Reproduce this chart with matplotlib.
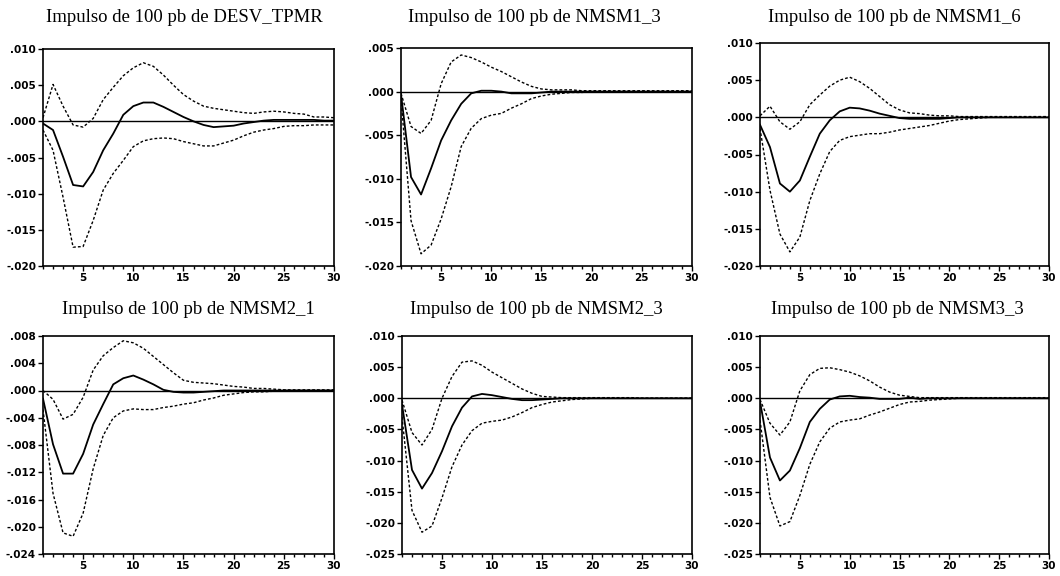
import matplotlib
matplotlib.use("Agg")
import matplotlib.pyplot as plt
import numpy as np

W, H = 1060, 576

periods = list(range(1, 31))

titles = [
    "Impulso de 100 pb de DESV_TPMR",
    "Impulso de 100 pb de NMSM1_3",
    "Impulso de 100 pb de NMSM1_6",
    "Impulso de 100 pb de NMSM2_1",
    "Impulso de 100 pb de NMSM2_3",
    "Impulso de 100 pb de NMSM3_3",
]

# panel 1: DESV_TPMR
p1_mean = [-0.0003, -0.0012, -0.0049, -0.0088, -0.0090, -0.0070, -0.0040, -0.0017, 0.0009, 0.0021,
           0.0026, 0.0026, 0.0020, 0.0013, 0.0006, 0.0000, -0.0005, -0.0008, -0.0007, -0.0006,
           -0.0003, -0.0001, 0.0001, 0.0002, 0.0002, 0.0002, 0.0002, 0.0002, 0.0001, 0.0001]
p1_up = [0.0005, 0.0051, 0.0021, -0.0005, -0.0008, 0.0004, 0.0030, 0.0047, 0.0063, 0.0074,
         0.0081, 0.0076, 0.0064, 0.0050, 0.0037, 0.0028, 0.0021, 0.0018, 0.0016, 0.0014,
         0.0012, 0.0011, 0.0013, 0.0014, 0.0013, 0.0011, 0.0010, 0.0006, 0.0006, 0.0005]
p1_lo = [-0.0012, -0.0040, -0.0105, -0.0174, -0.0173, -0.0137, -0.0095, -0.0072, -0.0054, -0.0035,
         -0.0027, -0.0024, -0.0023, -0.0024, -0.0028, -0.0031, -0.0034, -0.0034, -0.0030, -0.0026,
         -0.0020, -0.0015, -0.0012, -0.0010, -0.0007, -0.0006, -0.0006, -0.0005, -0.0005, -0.0005]

# panel 2: NMSM1_3
p2_mean = [-0.0003, -0.0098, -0.0118, -0.0088, -0.0056, -0.0033, -0.0014, -0.0002, 0.0001, 0.0001,
           0.0000, -0.0002, -0.0002, -0.0002, -0.0001, 0.0000, 0.0000, 0.0000, 0.0000, 0.0000,
           0.0000, 0.0000, 0.0000, 0.0000, 0.0000, 0.0000, 0.0000, 0.0000, 0.0000, 0.0000]
p2_up = [-0.0002, -0.0040, -0.0048, -0.0033, 0.0009, 0.0034, 0.0042, 0.0039, 0.0034, 0.0028,
         0.0023, 0.0017, 0.0011, 0.0006, 0.0003, 0.0002, 0.0002, 0.0002, 0.0001, 0.0001,
         0.0001, 0.0001, 0.0001, 0.0001, 0.0001, 0.0001, 0.0001, 0.0001, 0.0001, 0.0001]
p2_lo = [-0.0008, -0.0148, -0.0186, -0.0176, -0.0146, -0.0109, -0.0063, -0.0042, -0.0031, -0.0027,
         -0.0025, -0.0019, -0.0014, -0.0008, -0.0005, -0.0003, -0.0002, -0.0001, -0.0001, 0.0000,
         0.0000, 0.0000, 0.0000, 0.0000, 0.0000, 0.0000, 0.0000, 0.0000, 0.0000, 0.0000]

# panel 3: NMSM1_6
p3_mean = [-0.0010, -0.0040, -0.0089, -0.0100, -0.0085, -0.0053, -0.0022, -0.0004, 0.0008, 0.0013,
           0.0012, 0.0009, 0.0005, 0.0002, -0.0001, -0.0002, -0.0002, -0.0002, -0.0002, -0.0001,
           0.0000, 0.0000, 0.0000, 0.0000, 0.0000, 0.0000, 0.0000, 0.0000, 0.0000, 0.0000]
p3_up = [0.0002, 0.0015, -0.0006, -0.0016, -0.0006, 0.0017, 0.0030, 0.0042, 0.0050, 0.0054,
         0.0048, 0.0039, 0.0028, 0.0017, 0.0010, 0.0006, 0.0005, 0.0003, 0.0002, 0.0002,
         0.0001, 0.0001, 0.0001, 0.0001, 0.0001, 0.0001, 0.0001, 0.0001, 0.0001, 0.0001]
p3_lo = [-0.0015, -0.0098, -0.0157, -0.0181, -0.0161, -0.0112, -0.0076, -0.0046, -0.0031, -0.0026,
         -0.0024, -0.0022, -0.0022, -0.0020, -0.0017, -0.0015, -0.0013, -0.0011, -0.0008, -0.0005,
         -0.0003, -0.0002, -0.0001, 0.0000, 0.0000, 0.0000, 0.0000, 0.0000, 0.0000, 0.0000]

# panel 4: NMSM2_1
p4_mean = [-0.0012, -0.0079, -0.0122, -0.0122, -0.0093, -0.0050, -0.0020, 0.0009, 0.0018, 0.0022,
           0.0016, 0.0009, 0.0001, -0.0002, -0.0003, -0.0003, -0.0002, -0.0001, 0.0000, 0.0000,
           0.0000, 0.0000, 0.0000, 0.0000, 0.0000, 0.0000, 0.0000, 0.0000, 0.0000, 0.0000]
p4_up = [0.0000, -0.0013, -0.0042, -0.0035, -0.0010, 0.0030, 0.0051, 0.0063, 0.0073, 0.0070,
         0.0062, 0.0050, 0.0038, 0.0026, 0.0015, 0.0012, 0.0011, 0.0010, 0.0008, 0.0006,
         0.0005, 0.0003, 0.0003, 0.0002, 0.0001, 0.0001, 0.0001, 0.0001, 0.0001, 0.0001]
p4_lo = [-0.0028, -0.0151, -0.0209, -0.0214, -0.0180, -0.0115, -0.0066, -0.0040, -0.0030, -0.0027,
         -0.0028, -0.0028, -0.0025, -0.0023, -0.0020, -0.0018, -0.0014, -0.0011, -0.0007, -0.0005,
         -0.0003, -0.0002, -0.0002, -0.0001, 0.0000, 0.0000, 0.0000, 0.0000, 0.0000, 0.0000]

# panel 5: NMSM2_3
p5_mean = [-0.0010, -0.0115, -0.0145, -0.0120, -0.0085, -0.0045, -0.0015, 0.0003, 0.0007, 0.0005,
           0.0002, -0.0001, -0.0003, -0.0003, -0.0002, -0.0001, 0.0000, 0.0000, 0.0000, 0.0000,
           0.0000, 0.0000, 0.0000, 0.0000, 0.0000, 0.0000, 0.0000, 0.0000, 0.0000, 0.0000]
p5_up = [-0.0003, -0.0055, -0.0075, -0.0050, 0.0000, 0.0035, 0.0058, 0.0060, 0.0053, 0.0042,
         0.0033, 0.0024, 0.0015, 0.0008, 0.0003, 0.0002, 0.0001, 0.0001, 0.0001, 0.0001,
         0.0001, 0.0001, 0.0001, 0.0001, 0.0000, 0.0000, 0.0000, 0.0000, 0.0000, 0.0000]
p5_lo = [-0.0030, -0.0180, -0.0215, -0.0205, -0.0160, -0.0110, -0.0075, -0.0052, -0.0040, -0.0037,
         -0.0035, -0.0030, -0.0023, -0.0015, -0.0010, -0.0006, -0.0004, -0.0002, -0.0001, 0.0000,
         0.0000, 0.0000, 0.0000, 0.0000, 0.0000, 0.0000, 0.0000, 0.0000, 0.0000, 0.0000]

# panel 6: NMSM3_3
p6_mean = [-0.0005, -0.0095, -0.0132, -0.0116, -0.0080, -0.0038, -0.0017, -0.0002, 0.0003, 0.0004,
           0.0002, 0.0001, -0.0001, -0.0001, -0.0001, 0.0001, -0.0001, 0.0000, 0.0000, 0.0000,
           0.0000, 0.0000, 0.0000, 0.0000, 0.0000, 0.0000, 0.0000, 0.0000, 0.0000, 0.0000]
p6_up = [-0.0002, -0.0040, -0.0059, -0.0038, 0.0012, 0.0038, 0.0048, 0.0049, 0.0046, 0.0042,
         0.0036, 0.0028, 0.0018, 0.0010, 0.0005, 0.0003, 0.0001, 0.0001, 0.0001, 0.0001,
         0.0001, 0.0001, 0.0001, 0.0001, 0.0001, 0.0001, 0.0001, 0.0001, 0.0001, 0.0001]
p6_lo = [-0.0035, -0.0159, -0.0205, -0.0198, -0.0156, -0.0106, -0.0070, -0.0048, -0.0038, -0.0035,
         -0.0033, -0.0027, -0.0022, -0.0016, -0.0010, -0.0006, -0.0005, -0.0003, -0.0002, -0.0001,
         0.0000, 0.0000, 0.0000, 0.0000, 0.0000, 0.0000, 0.0000, 0.0000, 0.0000, 0.0000]

# y-axis settings per panel (min, max, step)
y_axes = [
    (-0.020, 0.010, 0.005),
    (-0.020, 0.005, 0.005),
    (-0.020, 0.010, 0.005),
    (-0.024, 0.008, 0.004),
    (-0.025, 0.010, 0.005),
    (-0.025, 0.010, 0.005),
]

series = [
    (p1_mean, p1_up, p1_lo),
    (p2_mean, p2_up, p2_lo),
    (p3_mean, p3_up, p3_lo),
    (p4_mean, p4_up, p4_lo),
    (p5_mean, p5_up, p5_lo),
    (p6_mean, p6_up, p6_lo),
]

# axes boxes in pixels: left, right, top, bottom
boxes = [
    (43, 334, 49, 266),
    (401, 692, 48, 266),
    (760, 1049, 43, 266),
    (43, 334, 336, 554),
    (402, 692, 336, 554),
    (760, 1049, 336, 554),
]
title_pos = [(184, 17), (534, 17), (894, 17), (188, 309), (536, 309), (897, 309)]


def fmt(v):
    s = f"{abs(v):.3f}".lstrip("0")
    return ("-" if v < -1e-12 else "") + s


fig = plt.figure(figsize=(W / 100, H / 100), dpi=100)
fig.patch.set_facecolor("white")

for i in range(6):
    l, r, t, b = boxes[i]
    ax = fig.add_axes([l / W, 1 - b / H, (r - l) / W, (b - t) / H])
    mean, up, lo = series[i]
    ax.axhline(0, color="black", lw=1.0, zorder=1)
    ax.plot(periods, up, color="black", lw=1.0, linestyle=(0, (2, 1.5)))
    ax.plot(periods, lo, color="black", lw=1.0, linestyle=(0, (2, 1.5)))
    ax.plot(periods, mean, color="black", lw=1.3)

    ymin, ymax, step = y_axes[i]
    ax.set_xlim(1, 30)
    ax.set_ylim(ymin, ymax)
    yt = np.round(np.arange(ymin, ymax + step / 2, step), 4)
    ax.set_yticks(yt)
    ax.set_yticklabels([fmt(v) for v in yt])
    ax.set_xticks([5, 10, 15, 20, 25, 30])
    ax.set_xticks(periods, minor=True)

    ax.tick_params(axis="both", which="major", direction="out", length=3.5, width=1,
                   labelsize=7.5, pad=1.5, colors="black")
    ax.tick_params(axis="x", which="minor", direction="out", length=2, width=1)
    for lab in ax.get_xticklabels() + ax.get_yticklabels():
        lab.set_fontweight("bold")
    for sp in ax.spines.values():
        sp.set_linewidth(1.2)
        sp.set_color("black")

    tx, ty = title_pos[i]
    fig.text(tx / W, 1 - ty / H, titles[i], ha="center", va="center",
             fontsize=13.5, family="Liberation Serif")

fig.savefig("out.png", dpi=100)
